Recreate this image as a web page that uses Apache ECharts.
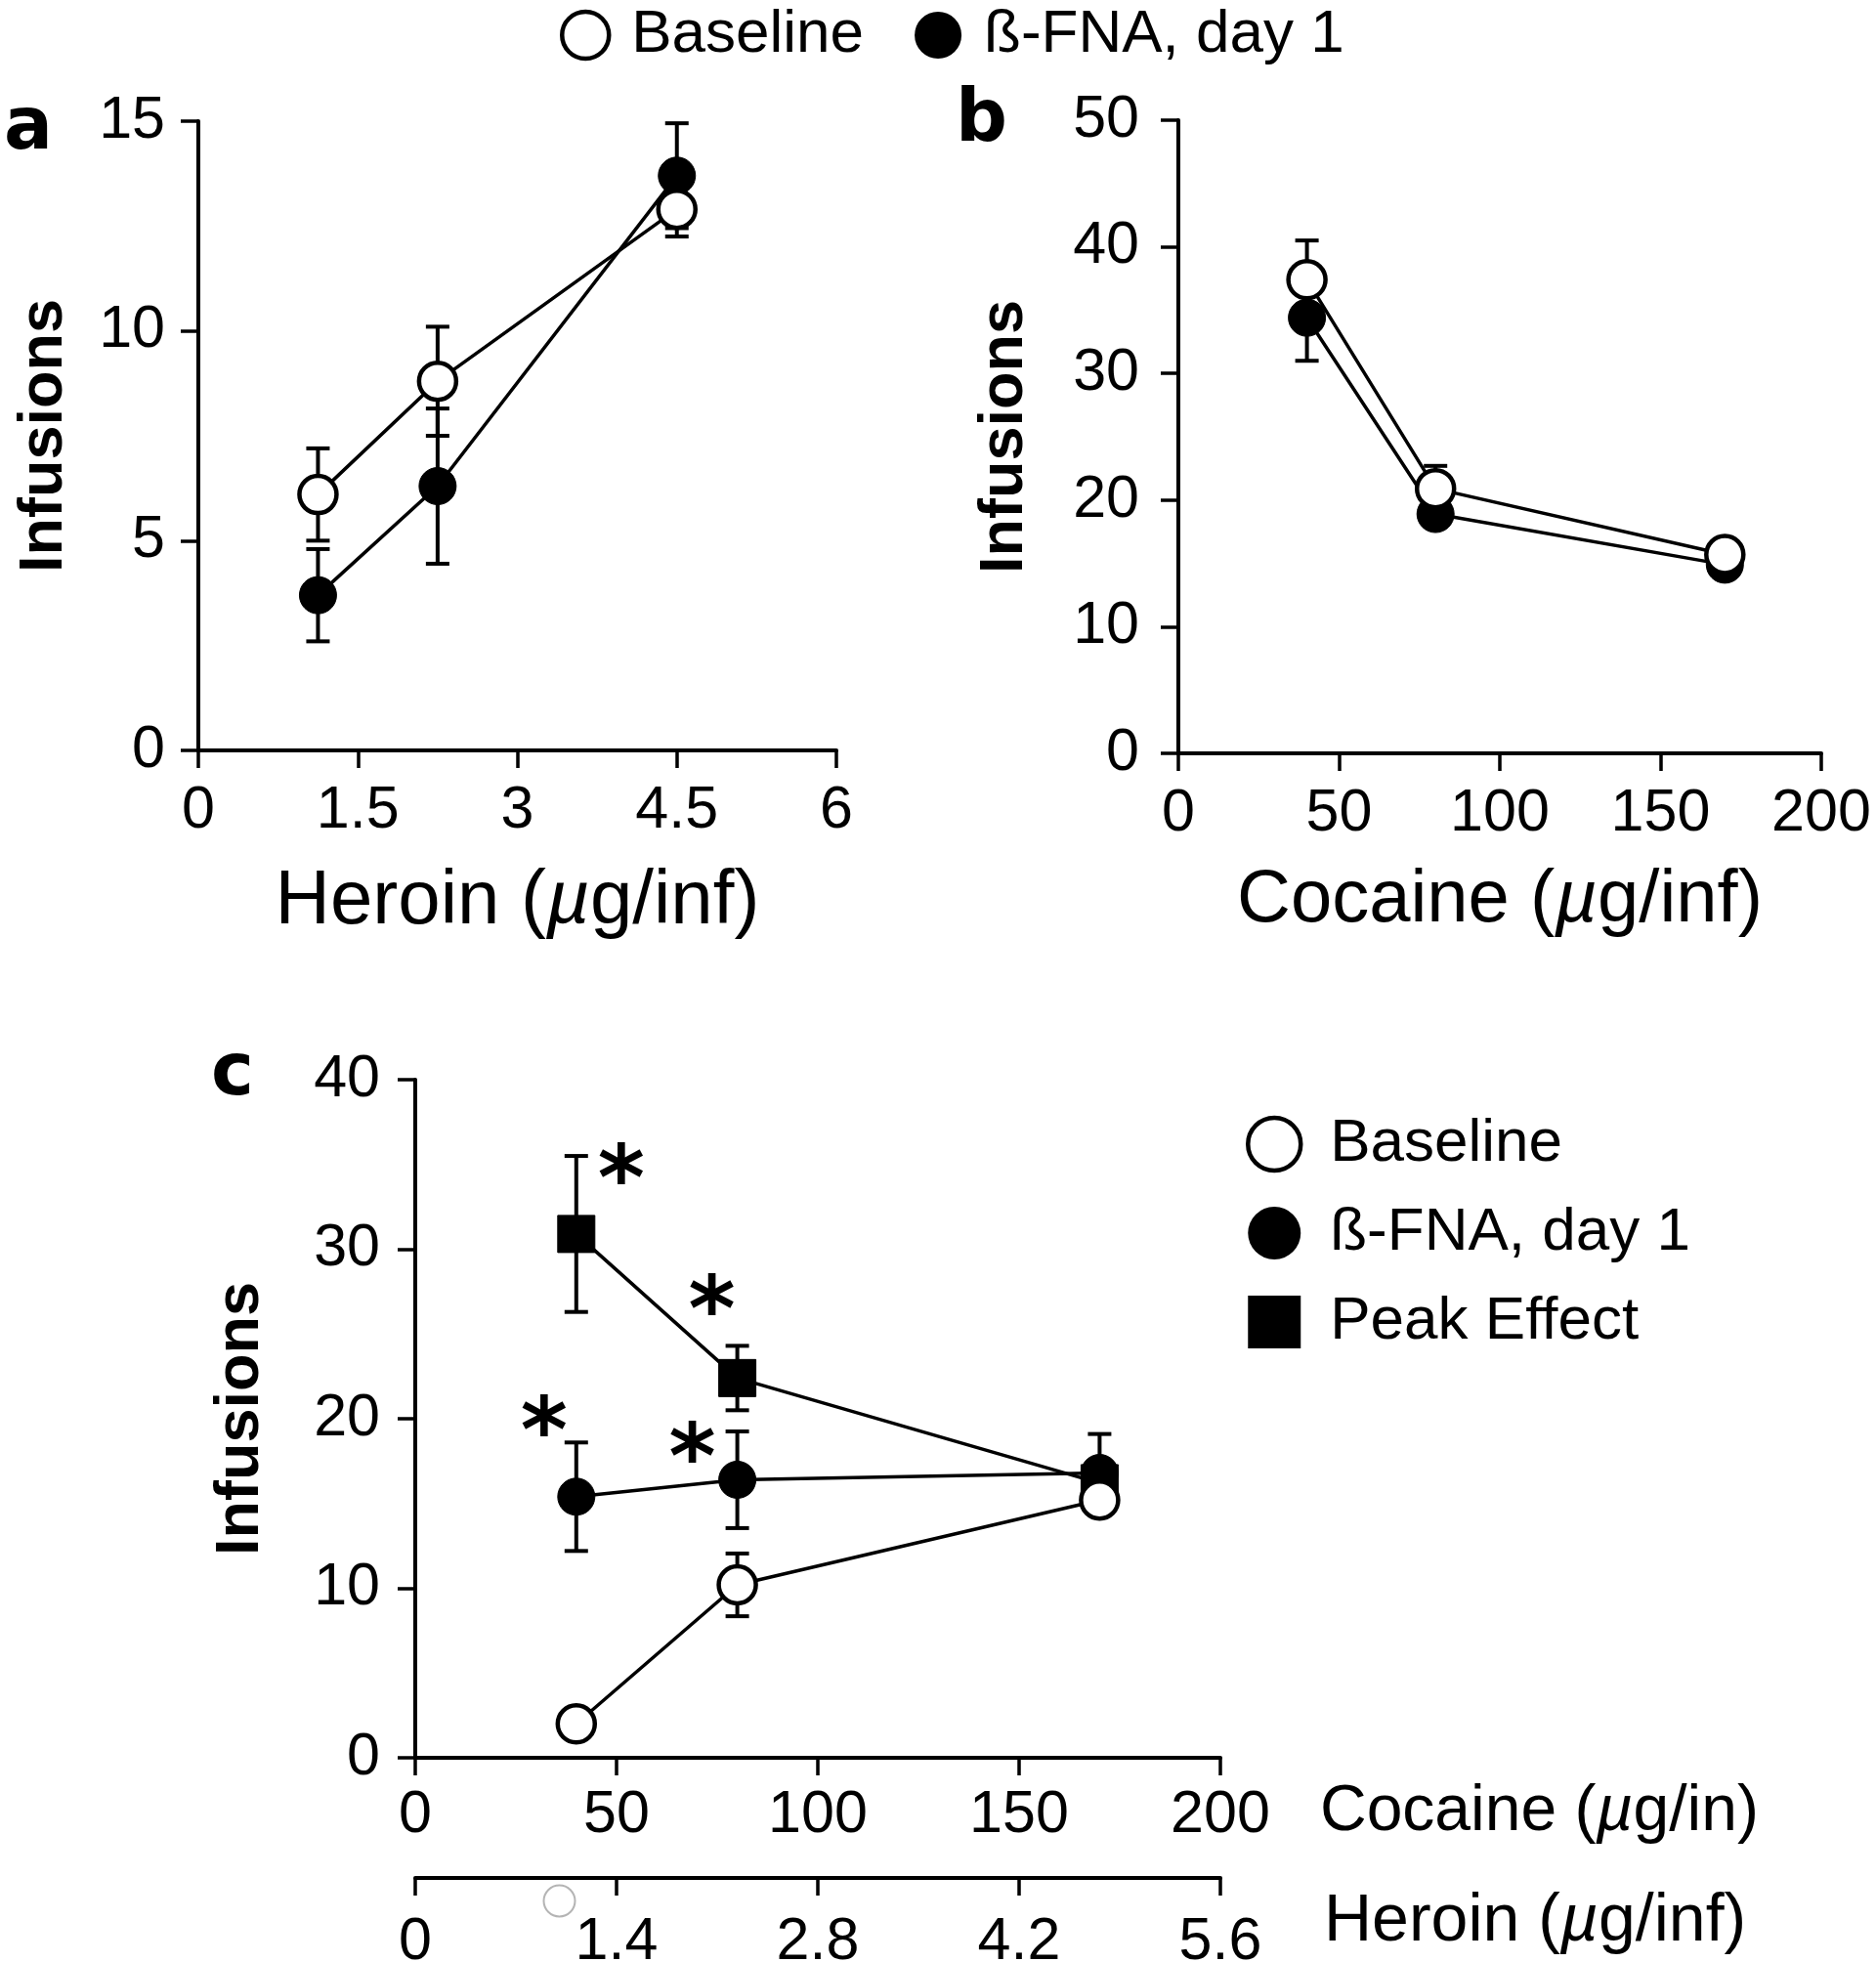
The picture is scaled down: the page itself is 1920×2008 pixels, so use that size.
<!DOCTYPE html>
<html><head><meta charset="utf-8">
<script src="https://cdn.jsdelivr.net/npm/echarts@6/dist/echarts.min.js"></script>
<style>html,body{margin:0;padding:0;background:#fff}#c{width:1920px;height:2008px}</style>
</head><body><div id="c"></div>
<script>
// ---------- DATA ----------
// Panel a: heroin dose-response
const heroinDoses = [1.125, 2.25, 4.5];
const heroinBaseline = [6.1, 8.8, 12.9];
const heroinBaselineSem = [1.1, 1.3, 0.65];
const heroinFna = [3.7, 6.3, 13.7];
const heroinFnaSem = [1.1, 1.85, 1.25];
const heroinTicksA = [0, 1.5, 3, 4.5, 6];
const infusionTicksA = [0, 5, 10, 15];

// Panel b: cocaine dose-response
const cocaineDoses = [40, 80, 170];
const cocaineBaseline = [37.4, 20.9, 15.7];
const cocaineBaselineSem = [3.1, 1.8, 0.5];
const cocaineFna = [34.4, 18.9, 14.9];
const cocaineFnaSem = [3.4, 1.0, 0.5];
const cocaineTicks = [0, 50, 100, 150, 200];
const infusionTicksB = [0, 10, 20, 30, 40, 50];

// Panel c: cocaine + heroin combination
const comboDoses = [40, 80, 170];
const comboBaseline = [2.0, 10.2, 15.2];
const comboBaselineSem = [0, 1.85, 0.7];
const comboFna = [15.4, 16.4, 16.8];
const comboFnaSem = [3.2, 2.85, 2.3];
const comboPeak = [30.9, 22.4, 16.2];
const comboPeakSem = [4.6, 1.9, 0.5];
const heroinTicksC = [0, 1.4, 2.8, 4.2, 5.6];
const infusionTicksC = [0, 10, 20, 30, 40];
// significance marks (series, index)
const comboStarMarks = [['peak', 0], ['peak', 1], ['fna', 0], ['fna', 1]];

const seriesNames = ['Baseline', 'ß-FNA, day 1', 'Peak Effect'];
const axisNames = { infusions: 'Infusions', heroin: 'Heroin (', cocaine: 'Cocaine (', unitInf: 'g/inf)', unitIn: 'g/in)', mu: 'µ' };
const panelLetters = ['a', 'b', 'c'];

// ---------- STYLE ----------
const FONT = '"Liberation Sans", Arial, sans-serif';
const starOffsets = [[46, -49], [-26, -62], [-33, -60], [-46, -15]];

function tickRange(t) { return { min: t[0], max: t[t.length - 1], interval: t[1] - t[0] }; }
function fmt(v) { return Math.abs(v) < 1e-9 ? '0' : String(Math.round(v * 10) / 10); }

const axisCommon = {
  type: 'value',
  axisLine: { show: true, onZero: false, lineStyle: { color: '#000', width: 4 } },
  axisTick: { show: true, inside: false, length: 18, lineStyle: { color: '#000', width: 3.5 } },
  splitLine: { show: false },
  axisLabel: { color: '#000', fontSize: 61, fontFamily: FONT, formatter: fmt }
};
const richTitle = (size) => ({
  n: { fontSize: size, fontFamily: FONT, color: '#000' },
  i: { fontSize: size, fontFamily: FONT, color: '#000', fontStyle: 'italic' }
});
function xAx(grid, ticks, extra) {
  return Object.assign({}, axisCommon, tickRange(ticks), { gridIndex: grid, position: 'bottom',
    axisLabel: Object.assign({}, axisCommon.axisLabel, { margin: 32 }) }, extra || {});
}
function yAx(grid, ticks, gap, margin) {
  return Object.assign({}, axisCommon, tickRange(ticks), { gridIndex: grid,
    axisLabel: Object.assign({}, axisCommon.axisLabel, { margin: margin }),
    name: axisNames.infusions, nameLocation: 'middle', nameRotate: 90, nameGap: gap,
    nameTextStyle: { fontSize: 63, fontWeight: 'bold', fontFamily: FONT, color: '#000' } });
}

function errSeries(xi, yi, xs, ys, es) {
  return {
    type: 'custom', xAxisIndex: xi, yAxisIndex: yi, z: 1, silent: true,
    data: xs.map((x, i) => [x, ys[i], es[i]]),
    renderItem(params, api) {
      const x = api.value(0), y = api.value(1), e = api.value(2);
      if (!e) return null;
      const t = api.coord([x, y + e]), b = api.coord([x, y - e]);
      const w = 12, st = { stroke: '#000', lineWidth: 4 };
      return { type: 'group', children: [
        { type: 'line', shape: { x1: t[0], y1: t[1], x2: b[0], y2: b[1] }, style: st },
        { type: 'line', shape: { x1: t[0] - w, y1: t[1], x2: t[0] + w, y2: t[1] }, style: st },
        { type: 'line', shape: { x1: b[0] - w, y1: b[1], x2: b[0] + w, y2: b[1] }, style: st }
      ] };
    }
  };
}
function lineSeries(xi, yi, xs, ys) {
  return { type: 'line', xAxisIndex: xi, yAxisIndex: yi, z: 2, silent: true, symbol: 'none',
    lineStyle: { color: '#000', width: 3.5 }, data: xs.map((x, i) => [x, ys[i]]) };
}
function markSeries(xi, yi, xs, ys, kind) {
  const open = kind === 0;
  return { type: 'scatter', name: seriesNames[kind], xAxisIndex: xi, yAxisIndex: yi,
    z: open ? 5 : (kind === 1 ? 4 : 3), silent: true,
    symbol: kind === 2 ? 'rect' : 'circle', symbolSize: 38,
    itemStyle: { color: open ? '#fff' : '#000', borderColor: '#000', borderWidth: open ? 4.5 : 1, opacity: 1 },
    data: xs.map((x, i) => [x, ys[i]]) };
}

const comboSets = { peak: comboPeak, fna: comboFna, base: comboBaseline };
const starSeries = {
  type: 'scatter', xAxisIndex: 2, yAxisIndex: 2, z: 6, silent: true, symbolSize: 1,
  itemStyle: { color: 'rgba(0,0,0,0)', opacity: 1 },
  label: { show: true, position: 'inside', formatter: '*', fontSize: 92, fontWeight: 'bold',
    fontFamily: '"DejaVu Sans", sans-serif', color: '#000', opacity: 1 },
  data: comboStarMarks.map((m, k) => ({ value: [comboDoses[m[1]], comboSets[m[0]][m[1]]],
    label: { offset: starOffsets[k] } }))
};

const legendItem = (kind) => ({ name: seriesNames[kind], icon: kind === 2 ? 'rect' : 'circle',
  itemStyle: { color: kind === 0 ? '#fff' : '#000', borderColor: '#000', borderWidth: kind === 0 ? 4.5 : 0, opacity: 1 } });

const option = {
  animation: false,
  backgroundColor: '#fff',
  grid: [
    { left: 203, top: 124, width: 653, height: 644, outerBoundsMode: 'none', containLabel: false },
    { left: 1206, top: 123, width: 658, height: 648, outerBoundsMode: 'none', containLabel: false },
    { left: 425, top: 1105, width: 824, height: 694, outerBoundsMode: 'none', containLabel: false }
  ],
  xAxis: [
    xAx(0, heroinTicksA, { name: '{n|' + axisNames.heroin + '}{i|' + axisNames.mu + '}{n|' + axisNames.unitInf + '}',
      nameLocation: 'middle', nameGap: 116, nameTextStyle: { rich: richTitle(78) } }),
    xAx(1, cocaineTicks, { name: '{n|' + axisNames.cocaine + '}{i|' + axisNames.mu + '}{n|' + axisNames.unitInf + '}',
      nameLocation: 'middle', nameGap: 113, nameTextStyle: { rich: richTitle(76) } }),
    xAx(2, cocaineTicks, { axisLabel: Object.assign({}, axisCommon.axisLabel, { margin: 29 }) }),
    xAx(2, heroinTicksC, { offset: 123, axisLabel: Object.assign({}, axisCommon.axisLabel, { margin: 36 }) })
  ],
  yAxis: [
    yAx(0, infusionTicksA, 126, 34),
    yAx(1, infusionTicksB, 146, 40),
    yAx(2, infusionTicksC, 147, 36)
  ],
  legend: [
    { left: 568, top: 0, itemWidth: 48, itemHeight: 48, itemGap: 52, selectedMode: false,
      textStyle: { fontSize: 62, fontFamily: FONT, color: '#000', padding: [0, 0, 0, 18] },
      data: [legendItem(0), legendItem(1)] },
    { left: 1270, top: 1135, orient: 'vertical', itemWidth: 54, itemHeight: 54, itemGap: 29, selectedMode: false,
      textStyle: { fontSize: 62, fontFamily: FONT, color: '#000', padding: [0, 0, 0, 25] },
      data: [legendItem(0), legendItem(1), legendItem(2)] }
  ],
  series: [
    errSeries(0, 0, heroinDoses, heroinBaseline, heroinBaselineSem),
    errSeries(0, 0, heroinDoses, heroinFna, heroinFnaSem),
    lineSeries(0, 0, heroinDoses, heroinBaseline),
    lineSeries(0, 0, heroinDoses, heroinFna),
    markSeries(0, 0, heroinDoses, heroinFna, 1),
    markSeries(0, 0, heroinDoses, heroinBaseline, 0),

    errSeries(1, 1, cocaineDoses, cocaineBaseline, cocaineBaselineSem),
    errSeries(1, 1, cocaineDoses, cocaineFna, cocaineFnaSem),
    lineSeries(1, 1, cocaineDoses, cocaineBaseline),
    lineSeries(1, 1, cocaineDoses, cocaineFna),
    markSeries(1, 1, cocaineDoses, cocaineFna, 1),
    markSeries(1, 1, cocaineDoses, cocaineBaseline, 0),

    errSeries(2, 2, comboDoses, comboPeak, comboPeakSem),
    errSeries(2, 2, comboDoses, comboFna, comboFnaSem),
    errSeries(2, 2, comboDoses, comboBaseline, comboBaselineSem),
    lineSeries(2, 2, comboDoses, comboPeak),
    lineSeries(2, 2, comboDoses, comboFna),
    lineSeries(2, 2, comboDoses, comboBaseline),
    markSeries(2, 2, comboDoses, comboPeak, 2),
    markSeries(2, 2, comboDoses, comboFna, 1),
    markSeries(2, 2, comboDoses, comboBaseline, 0),
    starSeries
  ],
  graphic: [
    { type: 'text', left: 4, top: 96, style: { text: panelLetters[0], font: 'bold 74px "DejaVu Sans", sans-serif', fill: '#000' } },
    { type: 'text', left: 978, top: 88, style: { text: panelLetters[1], font: 'bold 74px "DejaVu Sans", sans-serif', fill: '#000' } },
    { type: 'text', left: 216, top: 1064, style: { text: panelLetters[2], font: 'bold 74px "DejaVu Sans", sans-serif', fill: '#000' } },
    { type: 'text', left: 1351, top: 1822, style: { text: '{n|' + axisNames.cocaine + '}{i|' + axisNames.mu + '}{n|' + axisNames.unitIn + '}', rich: richTitle(66) } },
    { type: 'text', left: 1355, top: 1933, style: { text: '{n|' + axisNames.heroin + '}{i|' + axisNames.mu + '}{n|' + axisNames.unitInf + '}', rich: richTitle(68) } },
    { type: 'circle', left: 554, top: 1927, shape: { r: 16 }, style: { fill: 'none', stroke: '#b4b4b4', lineWidth: 2 } }
  ]
};
const chart = echarts.init(document.getElementById('c'), null, { renderer: 'canvas' });
chart.setOption(option);
</script></body></html>
